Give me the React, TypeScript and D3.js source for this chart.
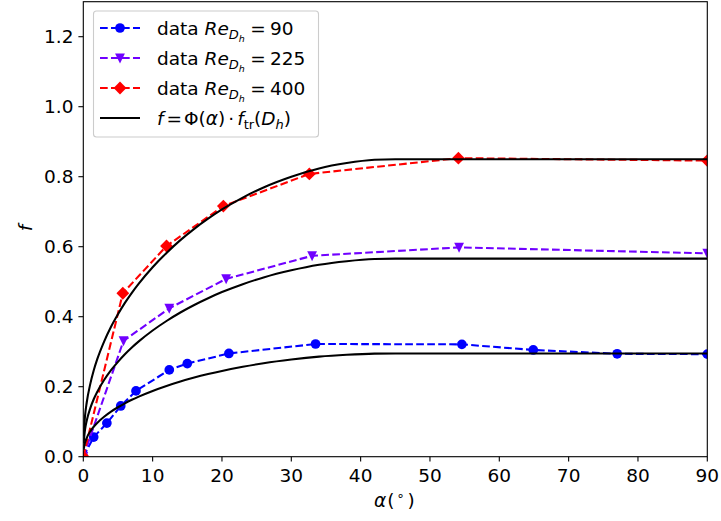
import React from "react";
import * as d3 from "d3";

// ---- data ----
const alpha90 = [0, 1.5, 3.4, 5.4, 7.6, 12.4, 15.0, 21.0, 33.5, 54.6, 64.9, 77.0, 90];
const f90 = [0, 0.056, 0.096, 0.145, 0.188, 0.248, 0.266, 0.295, 0.322, 0.321, 0.305, 0.294, 0.293];

const alpha225 = [0, 5.8, 12.4, 20.6, 33.0, 54.2, 90];
const f225 = [0, 0.331, 0.424, 0.508, 0.574, 0.598, 0.581];

const alpha400 = [0, 5.7, 12.0, 20.2, 32.6, 54.1, 90];
const f400 = [0, 0.467, 0.602, 0.716, 0.808, 0.853, 0.846];

// model curve shape Φ(α) estimated from the picture, and the plateau levels f_tr(D_h)
const phiAlpha = [0.05, 0.25, 0.5, 1, 1.5, 2, 3, 4, 5, 6, 7, 8, 10, 12, 14, 16, 18, 20, 23, 26, 30, 34, 38, 42, 45, 90];
const phiValue = [
  0.069, 0.137, 0.183, 0.244, 0.29, 0.327, 0.387, 0.437, 0.479, 0.517, 0.551, 0.582, 0.637, 0.685, 0.728, 0.766,
  0.8, 0.831, 0.871, 0.905, 0.941, 0.969, 0.987, 0.998, 1.0, 1.0,
];
const fTr = [0.295, 0.566, 0.85];

const xTicks = [0, 10, 20, 30, 40, 50, 60, 70, 80, 90];
const yTicks = [0, 0.2, 0.4, 0.6, 0.8, 1.0, 1.2];
const reLabels = ["90", "225", "400"];

const W = 721;
const H = 521;
const L = 83.3;
const R = 707.3;
const T = 1.7;
const B = 456.7;
const FONT = "'DejaVu Sans', sans-serif";
const FS = 18.5;
const SUB = 13;
const SUB2 = 9.5;

const BLUE = "#0000ff";
const PURPLE = "#7000ff";
const RED = "#ff0000";

export default function App() {
  const x = d3.scaleLinear().domain([0, 90]).range([L, R]);
  const y = d3.scaleLinear().domain([0, 1.3]).range([B, T]);

  const line = d3
    .line<[number, number]>()
    .x((d) => x(d[0]))
    .y((d) => y(d[1]));
  const smooth = d3
    .line<[number, number]>()
    .x((d) => x(d[0]))
    .y((d) => y(d[1]))
    .curve(d3.curveMonotoneX);

  const series = [
    { a: alpha90, f: f90, color: BLUE, marker: "circle" },
    { a: alpha225, f: f225, color: PURPLE, marker: "tri" },
    { a: alpha400, f: f400, color: RED, marker: "diamond" },
  ];

  const marker = (kind: string, cx: number, cy: number, color: string, key: any) => {
    if (kind === "circle") return <circle key={key} cx={cx} cy={cy} r={4.85} fill={color} />;
    if (kind === "tri") {
      return (
        <path key={key} d={`M${cx - 4.9},${cy - 4.6}L${cx + 4.9},${cy - 4.6}L${cx},${cy + 5.4}Z`} fill={color} />
      );
    }
    const s = 6.4;
    return <path key={key} d={`M${cx},${cy - s}L${cx + s},${cy}L${cx},${cy + s}L${cx - s},${cy}Z`} fill={color} />;
  };

  const dash = "7.7,3.3";

  const legendX = 93.5;
  const legendY = 11;
  const rowY = [28, 58, 88, 118];

  return (
    <div style={{ position: "absolute", left: 0, top: 0 }}>
      <svg width={W} height={H} style={{ display: "block", background: "#fff", fontFamily: FONT }}>
        <defs>
          <clipPath id="plotclip">
            <rect x={L} y={T} width={R - L} height={B - T} />
          </clipPath>
        </defs>
        <rect x={0} y={0} width={W} height={H} fill="#fff" />

        <g clipPath="url(#plotclip)">
          {series.map((s, i) => {
            const pts = s.a.map((a, j) => [a, s.f[j]] as [number, number]);
            return (
              <g key={i}>
                <path d={line(pts) || ""} fill="none" stroke={s.color} strokeWidth={2.08} strokeDasharray={dash} />
                {pts.map((p, j) => marker(s.marker, x(p[0]), y(p[1]), s.color, j))}
              </g>
            );
          })}
          {fTr.map((ft, i) => {
            const pts = phiAlpha.map((a, j) => [a, phiValue[j] * ft] as [number, number]);
            return <path key={i} d={smooth(pts) || ""} fill="none" stroke="#000" strokeWidth={2.08} />;
          })}
        </g>

        {/* axes frame */}
        <rect x={L} y={T} width={R - L} height={B - T} fill="none" stroke="#000" strokeWidth={1.1} />

        {/* x ticks */}
        {xTicks.map((t) => (
          <g key={t}>
            <line x1={x(t)} x2={x(t)} y1={B} y2={B + 4.9} stroke="#000" strokeWidth={1.1} />
            <text x={x(t)} y={482} textAnchor="middle" fontSize={FS} fill="#000">
              {t}
            </text>
          </g>
        ))}
        {/* y ticks */}
        {yTicks.map((t) => (
          <g key={t}>
            <line x1={L - 4.9} x2={L} y1={y(t)} y2={y(t)} stroke="#000" strokeWidth={1.1} />
            <text x={L - 9.8} y={y(t) + 6.7} textAnchor="end" fontSize={FS} fill="#000">
              {t.toFixed(1)}
            </text>
          </g>
        ))}

        {/* axis labels */}
        <text x={374} y={507} fontSize={FS} fill="#000">
          <tspan fontStyle="italic">α</tspan>
          <tspan dx={1}>(</tspan>
          <tspan dx={2} fontSize={SUB} dy={-7}>
            ∘
          </tspan>
          <tspan dx={3} dy={7}>
            )
          </tspan>
        </text>
        <text transform={`translate(32,228) rotate(-90)`} textAnchor="middle" fontSize={FS} fontStyle="italic" fill="#000">
          f
        </text>

        {/* legend */}
        <rect
          x={legendX}
          y={legendY}
          width={225}
          height={126}
          rx={3}
          fill="#fff"
          fillOpacity={0.8}
          stroke="#cccccc"
          strokeWidth={1.1}
        />
        {series.map((s, i) => (
          <g key={i}>
            <line x1={100} x2={140} y1={rowY[i]} y2={rowY[i]} stroke={s.color} strokeWidth={2.08} strokeDasharray={dash} />
            {marker(s.marker, 120, rowY[i], s.color, "m")}
            <text x={157} y={rowY[i] + 6.5} fontSize={FS} fill="#000">
              <tspan>data</tspan>
              <tspan dx={5.9} fontStyle="italic">
                Re
              </tspan>
              <tspan fontStyle="italic" fontSize={SUB} dy={4}>
                D
              </tspan>
              <tspan fontStyle="italic" fontSize={SUB2} dy={3}>
                h
              </tspan>
              <tspan dx={5.5} dy={-7}>
                =
              </tspan>
              <tspan dx={4}>{reLabels[i]}</tspan>
            </text>
          </g>
        ))}
        <line x1={100} x2={140} y1={rowY[3]} y2={rowY[3]} stroke="#000" strokeWidth={2.08} />
        <text x={157} y={rowY[3] + 6.5} fontSize={FS} fill="#000">
          <tspan fontStyle="italic">f</tspan>
          <tspan dx={3}>=</tspan>
          <tspan dx={2}>Φ</tspan>
          <tspan>(</tspan>
          <tspan fontStyle="italic">α</tspan>
          <tspan>)</tspan>
          <tspan dx={3}>·</tspan>
          <tspan dx={3} fontStyle="italic">
            f
          </tspan>
          <tspan fontSize={SUB} dy={4}>
            tr
          </tspan>
          <tspan dy={-4}>(</tspan>
          <tspan fontStyle="italic">D</tspan>
          <tspan fontStyle="italic" fontSize={SUB} dy={4}>
            h
          </tspan>
          <tspan dy={-4}>)</tspan>
        </text>
      </svg>
    </div>
  );
}
